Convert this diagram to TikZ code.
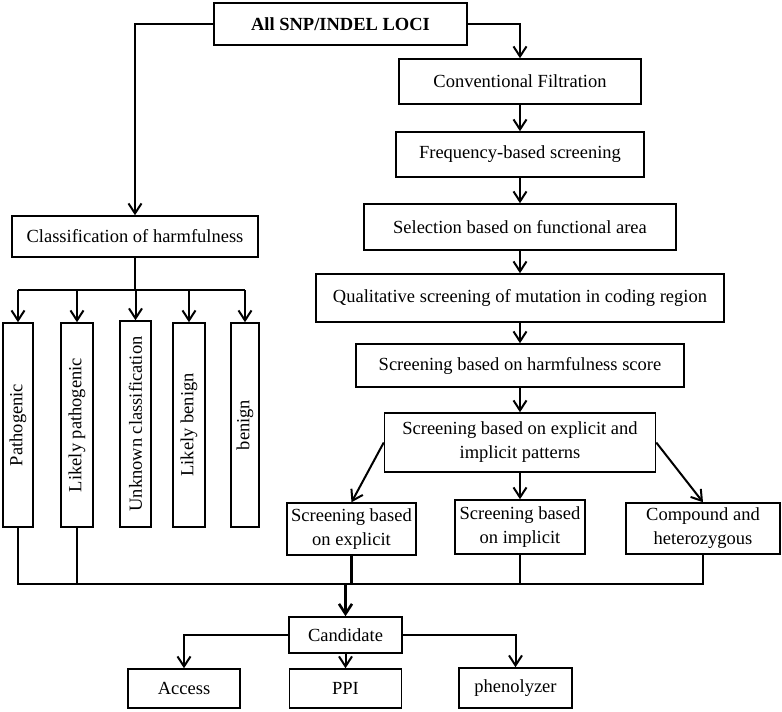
\documentclass[tikz,border=0pt]{standalone}
\usepackage{fontspec}
\setmainfont{Liberation Serif}
\usepackage{graphicx}
\usetikzlibrary{arrows.meta}

\def \boxLine {1.5pt}
\def \linkLine {2pt}
\def \textFont {\fontsize{18.5}{24}\selectfont}

\tikzset{
  box/.style={draw, line width=\boxLine, inner sep=0pt, align=center, font=\textFont},
  tallbox/.style={box, minimum width=#1, minimum height=204},
  link/.style={line width=\linkLine},
  arr/.style={link, -{Straight Barb[length=10pt,width=13pt]}},
}

\begin{document}
\begin{tikzpicture}[x=1pt, y=-1pt]
   \useasboundingbox (0,0) rectangle (782,712);

   % start
   \node[box, line width=2.6pt, minimum width=253, minimum height=42, font=\textFont\bfseries] (loci) at (340.5,24) {All SNP/INDEL LOCI};

   % filtering steps
   \node[box, minimum width=242, minimum height=45] (conv) at (520,81.5) {Conventional Filtration};
   \node[box, minimum width=248, minimum height=45] (freq) at (520,154.5) {Frequency-based screening};
   \node[box, minimum width=312, minimum height=46] (area) at (520,227) {Selection based on functional area};
   \node[box, minimum width=408, minimum height=48] (coding) at (520,298) {Qualitative screening of mutation in coding region};
   \node[box, minimum width=328, minimum height=43] (score) at (520,365.5) {Screening based on harmfulness score};
   \node[box, minimum width=271, minimum height=59] (pattern) at (520,442.5) {Screening based on explicit and\\implicit patterns};
   \node[box, minimum width=129, minimum height=52] (explicit) at (351.5,529) {Screening based\\on explicit};
   \node[box, minimum width=130, minimum height=54] (implicit) at (520,527) {Screening based\\on implicit};
   \node[box, minimum width=154, minimum height=51] (compound) at (703,528.5) {Compound and\\heterozygous};

   % classification
   \node[box, minimum width=246, minimum height=41] (harm) at (135,236.5) {Classification of harmfulness};
   \node[tallbox=30] (path) at (18,425) {\rotatebox{90}{Pathogenic}};
   \node[tallbox=32] (likelypath) at (77,425) {\rotatebox{90}{Likely pathogenic}};
   \node[tallbox=31, minimum height=206] (unknown) at (135.5,424) {\rotatebox{90}{Unknown classification}};
   \node[tallbox=32] (likelyben) at (189,425) {\rotatebox{90}{Likely benign}};
   \node[tallbox=28] (benign) at (245,425) {\rotatebox{90}{benign}};

   % results
   \node[box, minimum width=113, minimum height=36] (cand) at (345.5,635) {Candidate};
   \node[box, minimum width=112, minimum height=39] (access) at (184,688.5) {Access};
   \node[box, minimum width=112, minimum height=39] (ppi) at (345.5,688.5) {PPI};
   \node[box, minimum width=113, minimum height=40] (pheno) at (515.5,688) {phenolyzer};

   \coordinate (split) at (135,290);
   \coordinate (merge) at (345.5,584);

   \draw[arr] (loci.west) -| (harm.north);
   \draw[arr] (loci.east) -| (conv.north);
   \draw[arr] (conv) -- (freq);
   \draw[arr] (freq) -- (area);
   \draw[arr] (area) -- (coding);
   \draw[arr] (coding) -- (score);
   \draw[arr] (score) -- (pattern);
   \draw[arr] (pattern.west) -- (explicit.north);
   \draw[arr] (pattern) -- (implicit);
   \draw[arr] (pattern.east) -- (compound.north);

   \draw[link] (harm.south) -- (split);
   \draw[link] (split -| path) -- (split -| benign);
   \foreach \b in {path, likelypath, unknown, likelyben, benign}
      \draw[arr] (split -| \b) -- (\b.north);

   \draw[link, line width=2.2pt] (path.south) |- (merge -| compound) -- (compound.south);
   \foreach \b in {likelypath, explicit, implicit}
      \draw[link, line width=2.2pt] (\b.south) -- (\b.south |- merge);
   \draw[arr, line width=2.6pt] (merge) -- (cand.north);

   \draw[arr] (cand.west) -| (access.north);
   \draw[arr] (cand) -- (ppi);
   \draw[arr] (cand.east) -| (pheno.north);
\end{tikzpicture}
\end{document}
